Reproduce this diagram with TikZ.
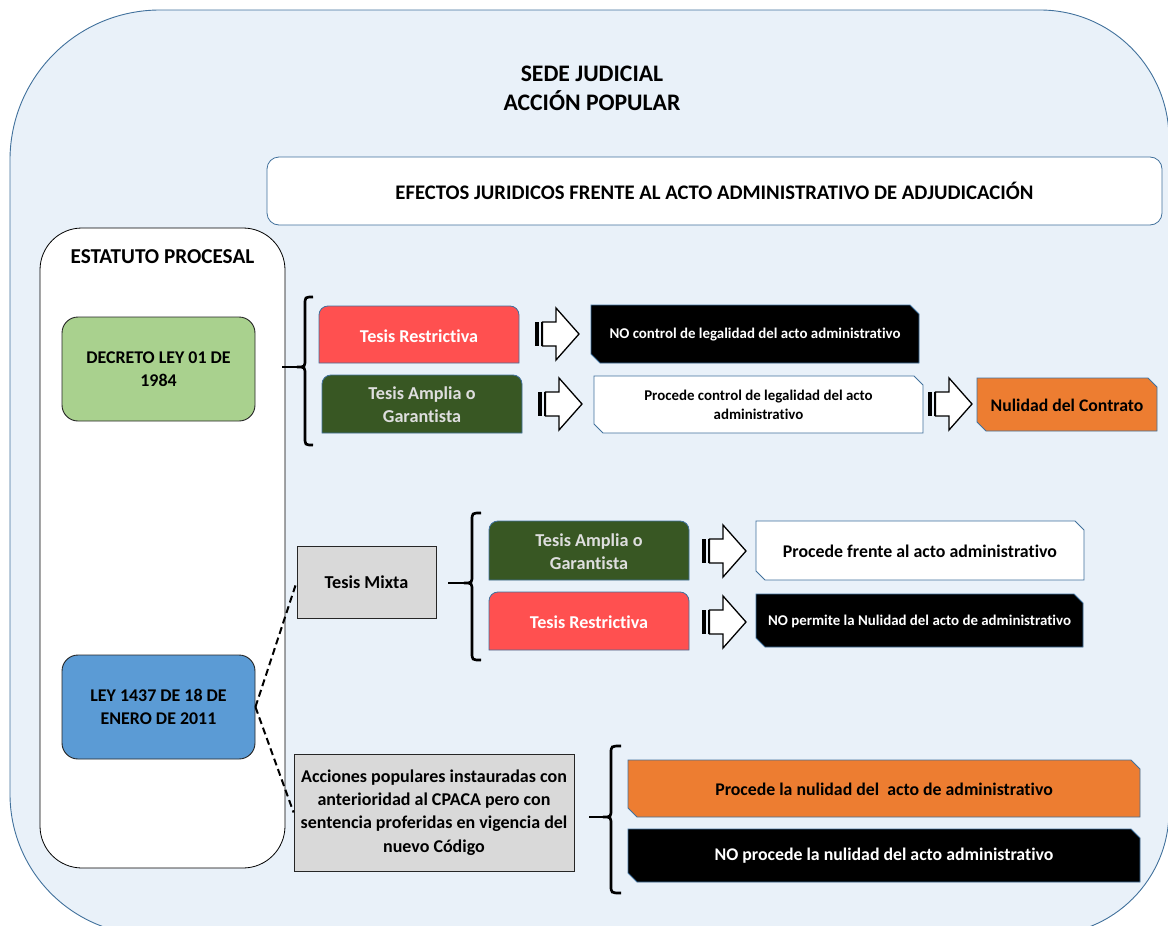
\documentclass[tikz,border=0pt]{standalone}
\usepackage{fontspec}
\setmainfont{Carlito}[Ligatures=NoCommon]
\definecolor{bgblue}{RGB}{233,241,249}
\definecolor{edgeblue}{RGB}{65,113,156}
\definecolor{tesred}{RGB}{255,80,80}
\definecolor{tesgreen}{RGB}{56,87,35}
\definecolor{decgreen}{RGB}{169,209,142}
\definecolor{leyblue}{RGB}{91,155,213}
\definecolor{orng}{RGB}{237,125,49}
\definecolor{grayfill}{RGB}{217,217,217}
\definecolor{lighttext}{RGB}{222,222,222}
\definecolor{darkedge}{RGB}{38,38,38}
\newcommand\TopRound[5]{\path[#5] (#1,#4) -- (#1,#2+9) .. controls (#1,#2+4) and (#1+4,#2) .. (#1+9,#2) -- (#3-9,#2) .. controls (#3-4,#2) and (#3,#2+4) .. (#3,#2+9) -- (#3,#4) -- cycle;}
\newcommand\SnipBox[5]{\path[#5] (#1,#2) -- (#3-9,#2) -- (#3,#2+9) -- (#3,#4) -- (#1+9,#4) -- (#1,#4-9) -- cycle;}
\newcommand\SArrow[2]{%
  \fill[black] (#1,#2-12) rectangle (#1+4,#2+12);
  \fill[black] (#1+5.5,#2-12) rectangle (#1+7,#2+12);
  \draw[fill=white,line width=1.3pt] (#1+7.5,#2-12) -- (#1+21,#2-12) -- (#1+21,#2-26) -- (#1+44,#2) -- (#1+21,#2+26) -- (#1+21,#2+12) -- (#1+7.5,#2+12) -- cycle;}
\newcommand\BraceL[6]{%
  \draw[line width=2.7pt] (#6,#2) .. controls (#1,#2) .. (#1,#2+8) -- (#1,#4-8) .. controls (#1,#4) .. (#1-8,#4) .. controls (#1,#4) .. (#1,#4+8) -- (#1,#3-8) .. controls (#1,#3) .. (#6,#3);
  \draw[line width=2.7pt] (#5,#4) -- (#1-8,#4);}
\tikzset{
  fs/.style={font=\bfseries\fontsize{#1}{#1}\selectfont},
  txt/.style={align=center, inner sep=0pt},
  redbox/.style={fill=tesred, draw=edgeblue, line width=0.8pt},
  greenbox/.style={fill=tesgreen, draw=edgeblue, line width=0.8pt},
  blackbox/.style={fill=black, draw=edgeblue, line width=0.8pt},
  whitebox/.style={fill=white, draw=edgeblue, line width=0.8pt},
  orangebox/.style={fill=orng, draw=edgeblue, line width=0.8pt},
  graybox/.style={draw=darkedge, fill=grayfill, line width=0.8pt, inner sep=0pt, align=center},
  lawbox/.style={draw=darkedge, line width=0.9pt, rounded corners=16pt, minimum width=193pt, minimum height=104pt, align=center, inner sep=0pt},
  link/.style={line width=2pt, dash pattern=on 7pt off 4pt}
}
\begin{document}
\begin{tikzpicture}[x=1pt,y=-1pt]
\useasboundingbox (0,0) rectangle (1168,926);
\clip (0,0) rectangle (1168,926);
% background panel
\draw[edgeblue, fill=bgblue, line width=0.9pt]
  (10,160) .. controls (10,77.2) and (77.2,10) .. (160,10)
  -- (1040,10) .. controls (1111.2,10) and (1169,67.8) .. (1169,139)
  -- (1169,811) .. controls (1169,879.5) and (1113.5,935) .. (1045,935)
  -- (151,935) .. controls (73.1,935) and (10,871.9) .. (10,794) -- cycle;
% title
\node[txt, font=\bfseries\fontsize{23.7}{29}\selectfont] (title) at (592,88) {SEDE JUDICIAL\\ACCIÓN POPULAR};
% efectos
\node[draw=edgeblue, fill=white, line width=0.8pt, rounded corners=12pt, minimum width=895pt, minimum height=68pt, inner sep=0pt, fs=20.7] (efectos) at (714.5,191) {EFECTOS JURIDICOS FRENTE AL ACTO ADMINISTRATIVO DE ADJUDICACIÓN};
% estatuto
\node[draw=black, fill=white, line width=0.8pt, rounded corners=42pt, minimum width=245pt, minimum height=640pt, inner sep=0pt] (estatuto) at (162.5,548) {};
\node[txt, fs=21.2] (estatutoT) at (162.5,257) {ESTATUTO PROCESAL};
\node[lawbox, fill=decgreen, font=\bfseries\fontsize{17.9}{23}\selectfont] (decreto) at (158.5,369) {DECRETO LEY 01 DE\\1984};
\node[lawbox, fill=leyblue, font=\bfseries\fontsize{17.9}{23}\selectfont] (ley) at (158.5,707) {LEY 1437 DE 18 DE\\ENERO DE 2011};
% row group 1
\BraceL{305}{297}{445}{367}{282}{313}
\TopRound{319}{306}{519}{363}{redbox}
\node[txt, fs=18.1, text=white] (tr1) at (419,336) {Tesis Restrictiva};
\TopRound{322}{375}{522}{433}{greenbox}
\node[txt, text=lighttext, font=\bfseries\fontsize{18.2}{22.7}\selectfont] (ta1) at (422,405) {Tesis Amplia o\\Garantista};
\SArrow{535}{334}
\SArrow{538}{404}
\SnipBox{591}{305}{919}{363}{blackbox}
\node[txt, fs=14.9, text=white] (noc) at (755,335) {NO control de legalidad del acto administrativo};
\SnipBox{594}{376}{923}{433}{whitebox}
\node[txt, font=\bfseries\fontsize{14.9}{19}\selectfont] (pcl) at (758.5,404.5) {Procede control de legalidad del acto\\administrativo};
\SArrow{928}{404}
\SnipBox{977}{378}{1157}{431}{orangebox}
\node[txt, fs=17.7] (nul) at (1067,405) {Nulidad del Contrato};
% mixta group
\node[graybox, minimum width=139pt, minimum height=72pt, fs=18.2] (mixta) at (366.5,582) {Tesis Mixta};
\BraceL{472}{513}{660}{583}{448}{481}
\TopRound{489}{521}{689}{580}{greenbox}
\node[txt, text=lighttext, font=\bfseries\fontsize{18.2}{22.7}\selectfont] (ta2) at (589,551.5) {Tesis Amplia o\\Garantista};
\TopRound{489}{592}{689}{650}{redbox}
\node[txt, fs=18.1, text=white] (tr2) at (589,622) {Tesis Restrictiva};
\SArrow{702}{551}
\SArrow{702}{622}
\SnipBox{756}{521}{1084}{580}{whitebox}
\node[txt, fs=17.85] (pfr) at (920,551) {Procede frente al acto administrativo};
\SnipBox{756}{594}{1083}{647}{blackbox}
\node[txt, fs=14.9, text=white] (nop) at (919.5,621.5) {NO permite la Nulidad del acto de administrativo};
% acciones group
\node[graybox, minimum width=280pt, minimum height=117pt, font=\bfseries\fontsize{18}{23.3}\selectfont] (acc) at (434,812.5) {Acciones populares instauradas con\\anterioridad al CPACA pero con\\sentencia proferidas en vigencia del\\nuevo Código};
\BraceL{611}{746}{893}{817}{589}{621}
\SnipBox{628}{760}{1140}{817}{orangebox}
\node[txt, fs=17.8] (pln) at (884,789) {Procede la nulidad del~ acto de administrativo};
\SnipBox{628}{829}{1140}{882}{blackbox}
\node[txt, fs=17.8, text=white] (npl) at (884,856) {NO procede la nulidad del acto administrativo};
% dashed links
\draw[link] (ley.east) -- (mixta.west);
\draw[link] (ley.east) -- (acc.west);
\end{tikzpicture}
\end{document}
